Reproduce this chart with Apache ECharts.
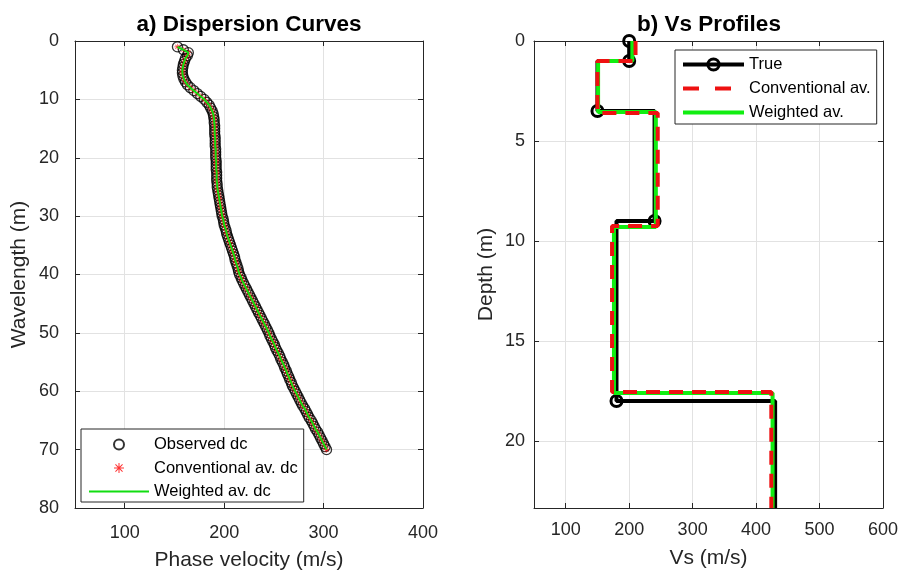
<!DOCTYPE html>
<html>
<head>
<meta charset="utf-8">
<title>Dispersion curves and Vs profiles</title>
<script src="https://cdn.jsdelivr.net/npm/echarts@6/dist/echarts.min.js"></script>
<style>
  html, body { margin: 0; padding: 0; background: #fff; }
  #chart { width: 901px; height: 575px; }
</style>
</head>
<body>
<div id="chart"></div>
<script>
// a) dispersion curve, sampled every half metre of wavelength
const wavelength = [
  1, 1.5, 2, 2.5, 3, 3.5, 4, 4.5, 5, 5.5,
  6, 6.5, 7, 7.5, 8, 8.5, 9, 9.5, 10, 10.5,
  11, 11.5, 12, 12.5, 13, 13.5, 14, 14.5, 15, 15.5,
  16, 16.5, 17, 17.5, 18, 18.5, 19, 19.5, 20, 20.5,
  21, 21.5, 22, 22.5, 23, 23.5, 24, 24.5, 25, 25.5,
  26, 26.5, 27, 27.5, 28, 28.5, 29, 29.5, 30, 30.5,
  31, 31.5, 32, 32.5, 33, 33.5, 34, 34.5, 35, 35.5,
  36, 36.5, 37, 37.5, 38, 38.5, 39, 39.5, 40, 40.5,
  41, 41.5, 42, 42.5, 43, 43.5, 44, 44.5, 45, 45.5,
  46, 46.5, 47, 47.5, 48, 48.5, 49, 49.5, 50, 50.5,
  51, 51.5, 52, 52.5, 53, 53.5, 54, 54.5, 55, 55.5,
  56, 56.5, 57, 57.5, 58, 58.5, 59, 59.5, 60, 60.5,
  61, 61.5, 62, 62.5, 63, 63.5, 64, 64.5, 65, 65.5,
  66, 66.5, 67, 67.5, 68, 68.5, 69, 69.5, 70
]
const observedVel = [
  153, 159, 164, 163, 161, 160, 159, 158.5, 158, 158,
  158.5, 159.5, 161, 163, 166, 169.5, 173, 176.5, 180, 182.5,
  185, 186.5, 188, 189, 189.5, 190, 190, 190.5, 190.5, 190.5,
  190.5, 191, 191, 191, 191, 191.5, 191.5, 191.5, 191.5, 192,
  192, 192, 192, 192.5, 192.5, 192.5, 192.5, 193, 193, 193.5,
  194, 194.5, 195, 195.5, 196, 196.5, 197, 197.5, 198, 199,
  199.5, 200, 201, 202, 202.5, 203.5, 204.5, 205.5, 206.5, 207.5,
  208.5, 209.5, 210.5, 211, 212, 213, 214, 214.5, 215.5, 217,
  218, 219.5, 221, 222.5, 224, 225.5, 227, 228.5, 230, 231.5,
  233, 234.5, 236, 237.5, 239, 240.5, 242, 243.5, 245, 246,
  247.5, 249, 250.5, 251.5, 253, 254.5, 256, 257, 258.5, 260,
  261, 262.5, 263.5, 265, 266, 267.5, 268.5, 270, 271.5, 273,
  274.5, 276, 277.5, 279, 281, 282.5, 284, 285.5, 287.5, 289,
  290.5, 292, 294, 295.5, 297, 298.5, 300, 301.5, 303
]
// both averaged curves sit right on the observed one
const conventionalVel = observedVel
const weightedVel = observedVel

// b) layered Vs profiles: layer top depth (m) and Vs (m/s)
const trueTop = [0, 1, 3.5, 9, 18]
const trueVs = [200, 150, 240, 180, 430]
const convTop = [0, 1, 3.6, 9.25, 17.55]
const convVs = [210, 150, 245, 173, 424]
const wtdTop = [0, 1, 3.55, 9.3, 17.6]
const wtdVs = [205, 151, 242, 176, 426]
const maxDepth = 23.35

const font = '"Liberation Sans", Arial, sans-serif'
const axisColor = '#262626'
const gridColor = '#e2e2e2'
const clear = 'rgba(255,255,255,0)'
const asterisk = 'path://M9,0h2v20h-2z M0,9h20v2h-20z M2.2,3.6l1.4,-1.4l14.2,14.2l-1.4,1.4z M16.4,2.2l1.4,1.4l-14.2,14.2l-1.4,-1.4z'

function stairs (top, vs) {
  const pts = []
  for (let i = 0; i < vs.length; i++) {
    const bottom = i + 1 < top.length ? top[i + 1] : maxDepth
    pts.push([vs[i], top[i]])
    pts.push([vs[i], bottom])
  }
  return pts
}

// true profile carries circles at the surface and at each layer bottom
function trueData () {
  const pts = stairs(trueTop, trueVs)
  return pts.map((p, i) => {
    const marked = i === 0 || (i % 2 === 1 && i < pts.length - 1)
    return marked ? { value: p } : { value: p, symbol: 'none' }
  })
}

function dispersionData (vel) {
  return wavelength.map((w, i) => [vel[i], w])
}

function mainAxis (opt) {
  return Object.assign({
    type: 'value',
    nameLocation: 'middle',
    nameTextStyle: { color: axisColor, fontSize: 21, fontFamily: font },
    nameMoveOverlap: false,
    axisLine: { show: true, onZero: false, lineStyle: { color: axisColor, width: 1 } },
    axisTick: { show: true, inside: true, length: 5, lineStyle: { color: axisColor } },
    splitLine: { show: true, lineStyle: { color: gridColor, width: 1 } }
  }, opt)
}

function boxAxis (opt) {
  return Object.assign({
    type: 'value',
    axisLine: { show: true, onZero: false, lineStyle: { color: axisColor, width: 1 } },
    axisTick: { show: true, inside: true, length: 5, lineStyle: { color: axisColor } },
    axisLabel: { show: false },
    splitLine: { show: false }
  }, opt)
}

const labelStyle = { color: axisColor, fontSize: 18, fontFamily: font }
const legendText = { color: '#000', fontSize: 16.5, lineHeight: 16, fontFamily: font }

const chart = echarts.init(document.getElementById('chart'))
const option = {
  animation: false,
  backgroundColor: '#fff',
  textStyle: { fontFamily: font },
  graphic: [
    {
      type: 'text', x: 249, y: 25,
      style: { text: 'a) Dispersion Curves', fill: '#000', font: 'bold 22.5px ' + font, align: 'center', verticalAlign: 'middle' }
    },
    {
      type: 'text', x: 709, y: 25,
      style: { text: 'b) Vs Profiles', fill: '#000', font: 'bold 22.5px ' + font, align: 'center', verticalAlign: 'middle' }
    }
  ],
  grid: [
    { left: 75, right: 478, top: 41, bottom: 67, outerBoundsMode: 'none' },
    { left: 534, right: 18, top: 41, bottom: 67, outerBoundsMode: 'none' }
  ],
  legend: [
    {
      orient: 'vertical',
      left: 81,
      top: 429,
      padding: [7, 6, 2, 7],
      itemGap: 6.5,
      itemWidth: 60,
      itemHeight: 10,
      borderColor: axisColor,
      borderWidth: 1,
      backgroundColor: '#fff',
      textStyle: legendText,
      data: ['Observed dc', 'Conventional av. dc', 'Weighted av. dc']
    },
    {
      orient: 'vertical',
      left: 675,
      top: 50,
      padding: [6, 6, 3, 6],
      itemGap: 7,
      itemWidth: 61,
      itemHeight: 14,
      borderColor: axisColor,
      borderWidth: 1,
      backgroundColor: '#fff',
      textStyle: legendText,
      lineStyle: { width: 4 },
      data: [
        { name: 'True', itemStyle: { borderWidth: 3 } },
        { name: 'Conventional av.', lineStyle: { type: [16, 16] } },
        { name: 'Weighted av.' }
      ]
    }
  ],
  xAxis: [
    mainAxis({
      gridIndex: 0, position: 'bottom', min: 50, max: 400, minInterval: 100, maxInterval: 100,
      name: 'Phase velocity (m/s)', nameGap: 42,
      axisLabel: Object.assign({ margin: 16, formatter: v => (v % 100 === 0 ? String(v) : '') }, labelStyle)
    }),
    boxAxis({ gridIndex: 0, position: 'top', min: 50, max: 400, minInterval: 100, maxInterval: 100 }),
    mainAxis({
      gridIndex: 1, position: 'bottom', min: 50, max: 600, minInterval: 100, maxInterval: 100,
      name: 'Vs (m/s)', nameGap: 40,
      axisLabel: Object.assign({ margin: 13, formatter: v => (v % 100 === 0 ? String(v) : '') }, labelStyle)
    }),
    boxAxis({ gridIndex: 1, position: 'top', min: 50, max: 600, minInterval: 100, maxInterval: 100 })
  ],
  yAxis: [
    mainAxis({
      gridIndex: 0, position: 'left', inverse: true, min: 0, max: 80, interval: 10,
      name: 'Wavelength (m)', nameGap: 45,
      axisLabel: Object.assign({ margin: 16 }, labelStyle)
    }),
    boxAxis({ gridIndex: 0, position: 'right', inverse: true, min: 0, max: 80, interval: 10 }),
    mainAxis({
      gridIndex: 1, position: 'left', inverse: true, min: 0, max: maxDepth, interval: 5,
      name: 'Depth (m)', nameGap: 37,
      axisLabel: Object.assign({ margin: 9, formatter: v => (v % 5 === 0 ? String(v) : '') }, labelStyle)
    }),
    boxAxis({ gridIndex: 1, position: 'right', inverse: true, min: 0, max: maxDepth, interval: 5 })
  ],
  series: [
    {
      name: 'Observed dc',
      type: 'scatter',
      xAxisIndex: 0,
      yAxisIndex: 0,
      symbol: 'circle',
      symbolSize: 10,
      itemStyle: { color: clear, borderColor: '#000', borderWidth: 1.3 },
      data: dispersionData(observedVel),
      z: 2
    },
    {
      name: 'Conventional av. dc',
      type: 'scatter',
      xAxisIndex: 0,
      yAxisIndex: 0,
      symbol: asterisk,
      symbolSize: 6,
      itemStyle: { color: '#ff0000' },
      data: dispersionData(conventionalVel),
      z: 3
    },
    {
      name: 'Weighted av. dc',
      type: 'line',
      xAxisIndex: 0,
      yAxisIndex: 0,
      symbol: 'none',
      lineStyle: { color: '#11dd11', width: 2 },
      itemStyle: { color: clear },
      data: dispersionData(weightedVel),
      z: 4
    },
    {
      name: 'True',
      type: 'line',
      xAxisIndex: 2,
      yAxisIndex: 2,
      symbol: 'circle',
      symbolSize: 11,
      showSymbol: true,
      itemStyle: { color: clear, borderColor: '#000', borderWidth: 3 },
      lineStyle: { color: '#000', width: 4 },
      data: trueData(),
      z: 2
    },
    {
      name: 'Weighted av.',
      type: 'line',
      xAxisIndex: 2,
      yAxisIndex: 2,
      symbol: 'none',
      itemStyle: { color: clear },
      lineStyle: { color: '#11ee11', width: 4 },
      data: stairs(wtdTop, wtdVs),
      z: 3
    },
    {
      name: 'Conventional av.',
      type: 'line',
      xAxisIndex: 2,
      yAxisIndex: 2,
      symbol: 'none',
      itemStyle: { color: clear },
      lineStyle: { color: '#ee1111', width: 4, type: [14, 9] },
      data: stairs(convTop, convVs),
      z: 4
    }
  ]
}
chart.setOption(option)
</script>
</body>
</html>
